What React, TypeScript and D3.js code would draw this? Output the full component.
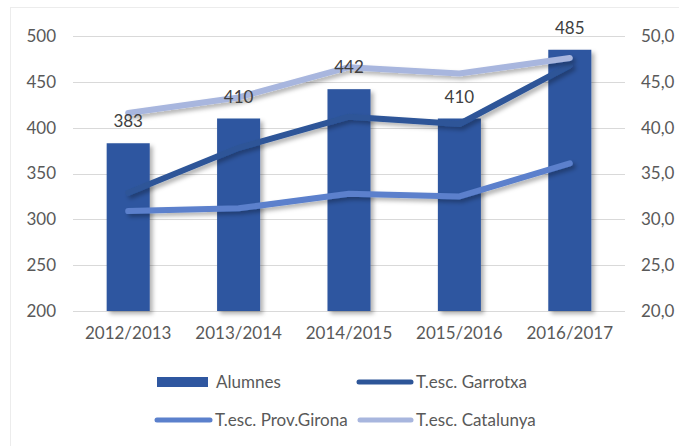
import React from "react";
import * as d3 from "d3";

const years = ["2012/2013", "2013/2014", "2014/2015", "2015/2016", "2016/2017"];
const alumnes = [383, 410, 442, 410, 485];
const garrotxa = [32.9, 37.8, 41.2, 40.4, 46.8];
const girona = [30.9, 31.2, 32.8, 32.5, 36.1];
const catalunya = [41.6, 43.3, 46.6, 45.9, 47.6];

const leftTicks = [200, 250, 300, 350, 400, 450, 500];
const rightTicks = [20, 25, 30, 35, 40, 45, 50];

const W = 679;
const H = 446;
const margin = { left: 73, right: 54, top: 36, bottom: 135 };
const font = "Lato, 'Open Sans', sans-serif";
const textColor = "#595959";

const lineSeries = [
  { name: "T.esc. Garrotxa", values: garrotxa, color: "#2d5598" },
  { name: "T.esc. Prov.Girona", values: girona, color: "#5b80cc" },
  { name: "T.esc. Catalunya", values: catalunya, color: "#a8b6de" },
];

export default function App() {
  const x = d3
    .scaleBand<string>()
    .domain(years)
    .range([margin.left, W - margin.right])
    .paddingInner(0.61)
    .paddingOuter(0.305);
  const yL = d3.scaleLinear().domain([200, 500]).range([H - margin.bottom, margin.top]);
  const yR = d3.scaleLinear().domain([20, 50]).range([H - margin.bottom, margin.top]);
  const cx = (i: number) => (x(years[i]) as number) + x.bandwidth() / 2;

  const line = d3
    .line<number>()
    .x((_, i) => cx(i))
    .y((d) => yR(d));

  return (
    <svg
      width={W}
      height={H}
      style={{ position: "absolute", left: 0, top: 0, background: "#fff" }}
      fontFamily={font}
    >
      <defs>
        <filter id="shadow" x="-20%" y="-20%" width="140%" height="160%">
          <feDropShadow dx="3" dy="3" stdDeviation="2" floodColor="#000" floodOpacity="0.3" />
        </filter>
      </defs>
      {/* chart area border (top/left visible) */}
      <line x1={10} x2={W} y1={7.5} y2={7.5} stroke="#ececec" />
      <line x1={10.5} x2={10.5} y1={7} y2={H} stroke="#ececec" />

      {/* gridlines */}
      {leftTicks.map((t) => (
        <line
          key={t}
          x1={margin.left}
          x2={W - margin.right}
          y1={Math.round(yL(t)) + 0.5}
          y2={Math.round(yL(t)) + 0.5}
          stroke="#d9d9d9"
          strokeWidth={1}
        />
      ))}

      {/* left axis */}
      {leftTicks.map((t) => (
        <text
          key={t}
          x={56}
          y={yL(t)}
          dy="0.35em"
          textAnchor="end"
          fontSize={17}
          fill={textColor}
        >
          {t}
        </text>
      ))}

      {/* right axis */}
      {rightTicks.map((t) => (
        <text key={t} x={641} y={yR(t)} dy="0.35em" fontSize={17} fill={textColor}>
          {d3.format(".1f")(t).replace(".", ",")}
        </text>
      ))}

      {/* x axis labels */}
      {years.map((yv, i) => (
        <text
          key={yv}
          x={cx(i)}
          y={339}
          textAnchor="middle"
          fontSize={17}
          fill={textColor}
        >
          {yv}
        </text>
      ))}

      {/* bars */}
      <g filter="url(#shadow)">
        {alumnes.map((v, i) => (
          <rect
            key={i}
            x={x(years[i])}
            y={yL(v)}
            width={x.bandwidth()}
            height={yL(200) - yL(v)}
            fill="#2f57a0"
          />
        ))}
      </g>

      {/* lines */}
      {lineSeries.map((s) => (
        <path
          key={s.name}
          d={line(s.values) || ""}
          fill="none"
          stroke={s.color}
          strokeWidth={6}
          strokeLinecap="round"
          strokeLinejoin="round"
          filter="url(#shadow)"
        />
      ))}

      {/* bar labels */}
      {alumnes.map((v, i) => (
        <text
          key={i}
          x={cx(i)}
          y={yL(v) - 16}
          textAnchor="middle"
          fontSize={17}
          fill="#404040"
        >
          {v}
        </text>
      ))}

      {/* legend */}
      <g fontSize={17} fill={textColor}>
        <rect x={157} y={377} width={51} height={10} fill="#2f57a0" />
        <text x={216} y={382} dy="0.35em">Alumnes</text>

        <line x1={359} x2={411} y1={382} y2={382} stroke={lineSeries[0].color} strokeWidth={5} strokeLinecap="round" />
        <text x={416} y={382} dy="0.35em">{lineSeries[0].name}</text>

        <line x1={157} x2={210} y1={420} y2={420} stroke={lineSeries[1].color} strokeWidth={5} strokeLinecap="round" />
        <text x={215} y={420} dy="0.35em">{lineSeries[1].name}</text>

        <line x1={360} x2={411} y1={420} y2={420} stroke={lineSeries[2].color} strokeWidth={5} strokeLinecap="round" />
        <text x={416} y={420} dy="0.35em">{lineSeries[2].name}</text>
      </g>
    </svg>
  );
}
